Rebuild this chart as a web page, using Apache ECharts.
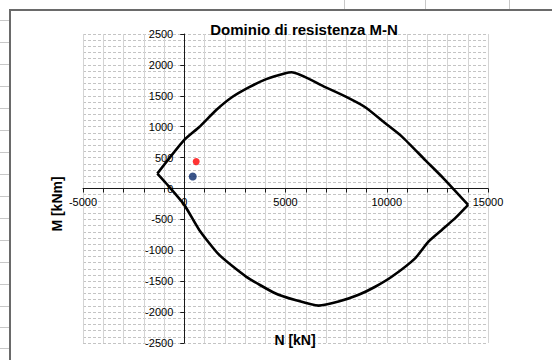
<!DOCTYPE html>
<html>
<head>
<meta charset="utf-8">
<title>Dominio di resistenza M-N</title>
<script src="https://cdn.jsdelivr.net/npm/echarts@6/dist/echarts.min.js"></script>
<style>
  html, body { margin: 0; padding: 0; background: #ffffff; }
  #chart { width: 552px; height: 360px; }
</style>
</head>
<body>
<div id="chart"></div>
<script>
// Interaction domain boundary: axial force N [kN] and bending moment M [kNm]
// upper branch (positive moments), left corner to right corner
const upperN = [-1330, 0, 740, 1580, 2370, 3210, 4050, 5040, 5300, 6960, 7950, 8940, 9930, 10750, 11900, 12800, 14020];
const upperM = [240, 785, 995, 1270, 1480, 1640, 1770, 1870, 1880, 1640, 1490, 1315, 1055, 840, 460, 165, -265];
// lower branch (negative moments), right corner back to left corner
const lowerN = [14020, 13380, 12720, 12060, 11400, 10260, 9430, 8610, 7620, 6630, 5480, 4490, 3050, 1730, 740, 0, -900, -1330];
const lowerM = [-265, -480, -670, -860, -1130, -1425, -1590, -1720, -1830, -1895, -1805, -1695, -1425, -1075, -670, -265, 85, 240];

// Design load points
const loadRedN = [590];
const loadRedM = [435];
const loadBlueN = [420];
const loadBlueM = [195];

// Axis ticks
const xTicks = { min: -5000, max: 15000, step: 5000 };
const yTicks = { min: -2500, max: 2500, step: 500 };

const toPairs = (xs, ys) => xs.map((x, i) => [x, ys[i]]);

const font = "'Liberation Sans', Arial, sans-serif";
const W = 552, H = 360;
const grid = { left: 83, right: 64, top: 34, bottom: 17 };
const gridW = W - grid.left - grid.right;
const gridH = H - grid.top - grid.bottom;
// the axes cross at the origin, so shift each axis (with its labels) onto zero
const yAxisShift = -gridW * (0 - xTicks.min) / (xTicks.max - xTicks.min);
const xAxisShift = -gridH * (0 - yTicks.min) / (yTicks.max - yTicks.min);

const rowLines = [20, 42, 64, 86, 108, 130, 152, 174, 196, 218, 240, 262, 284, 306, 327, 348];
const colLines = [344, 425, 509];

const graphics = [];
rowLines.forEach(y => graphics.push({
  type: 'line', silent: true, z: 0,
  shape: { x1: 0, y1: y + 0.5, x2: 9, y2: y + 0.5 },
  style: { stroke: '#c8c8c8', lineWidth: 1 }
}));
colLines.forEach(x => graphics.push({
  type: 'line', silent: true, z: 0,
  shape: { x1: x + 0.5, y1: 0, x2: x + 0.5, y2: 9 },
  style: { stroke: '#c8c8c8', lineWidth: 1 }
}));
// chart frame
graphics.push({
  type: 'polyline', silent: true, z: 1,
  shape: { points: [[10, 360], [10, 10], [552, 10]] },
  style: { stroke: '#6a6a6a', lineWidth: 2, fill: 'none' }
});
// axis titles
graphics.push({
  type: 'text', silent: true, z: 10,
  x: 57, y: 204, rotation: Math.PI / 2,
  style: { text: 'M [kNm]', font: 'bold 14px ' + font, fill: '#000', align: 'center', verticalAlign: 'middle' }
});
graphics.push({
  type: 'text', silent: true, z: 10,
  x: 295, y: 340,
  style: { text: 'N [kN]', font: 'bold 14px ' + font, fill: '#000', align: 'center', verticalAlign: 'middle' }
});

const plain = v => String(v);

const branchStyle = {
  type: 'line',
  showSymbol: false,
  symbol: 'none',
  smooth: 0.2,
  lineStyle: { color: '#000000', width: 2.6, join: 'round' },
  z: 3
};

const chart = echarts.init(document.getElementById('chart'), null, { renderer: 'svg' });
chart.setOption({
  animation: false,
  backgroundColor: '#ffffff',
  title: {
    text: 'Dominio di resistenza M-N',
    left: 299, top: 17, textAlign: 'center',
    textStyle: { fontFamily: font, fontWeight: 'bold', fontSize: 15, color: '#000' }
  },
  grid: { left: grid.left, right: grid.right, top: grid.top, bottom: grid.bottom, containLabel: false },
  xAxis: {
    type: 'value',
    min: xTicks.min, max: xTicks.max, interval: xTicks.step,
    offset: xAxisShift,
    axisLine: { onZero: false, lineStyle: { color: '#1a1a1a', width: 1 } },
    axisTick: { show: true, length: 4, lineStyle: { color: '#1a1a1a' } },
    minorTick: { show: true, splitNumber: 5, length: 4, lineStyle: { color: '#1a1a1a' } },
    axisLabel: { fontFamily: font, fontSize: 11, color: '#000', margin: 8, showMinLabel: true, showMaxLabel: true, formatter: plain },
    splitLine: { show: true, lineStyle: { color: '#d4d4d4', width: 1 } },
    minorSplitLine: { show: true, lineStyle: { color: '#d4d4d4', width: 1 } }
  },
  yAxis: {
    type: 'value',
    min: yTicks.min, max: yTicks.max, interval: yTicks.step,
    offset: yAxisShift,
    axisLine: { onZero: false, lineStyle: { color: '#1a1a1a', width: 1 } },
    axisTick: { show: true, length: 4, lineStyle: { color: '#1a1a1a' } },
    axisLabel: { fontFamily: font, fontSize: 11, color: '#000', margin: 11, showMinLabel: true, showMaxLabel: true, formatter: plain },
    splitLine: { show: true, lineStyle: { color: '#c4c4c4', width: 1, type: [3, 2] } },
    minorTick: { show: false, splitNumber: 5 },
    minorSplitLine: { show: true, lineStyle: { color: '#c4c4c4', width: 1, type: [3, 2] } }
  },
  series: [
    Object.assign({ name: 'Dominio (M+)', data: toPairs(upperN, upperM) }, branchStyle),
    Object.assign({ name: 'Dominio (M-)', data: toPairs(lowerN, lowerM) }, branchStyle),
    {
      name: 'Sollecitazione 1',
      type: 'scatter',
      data: toPairs(loadRedN, loadRedM),
      symbol: 'circle', symbolSize: 7,
      itemStyle: { color: '#ff0000' },
      z: 4
    },
    {
      name: 'Sollecitazione 2',
      type: 'scatter',
      data: toPairs(loadBlueN, loadBlueM),
      symbol: 'circle', symbolSize: 8,
      itemStyle: { color: '#0a2b6b' },
      z: 4
    }
  ],
  graphic: graphics
});
</script>
</body>
</html>
